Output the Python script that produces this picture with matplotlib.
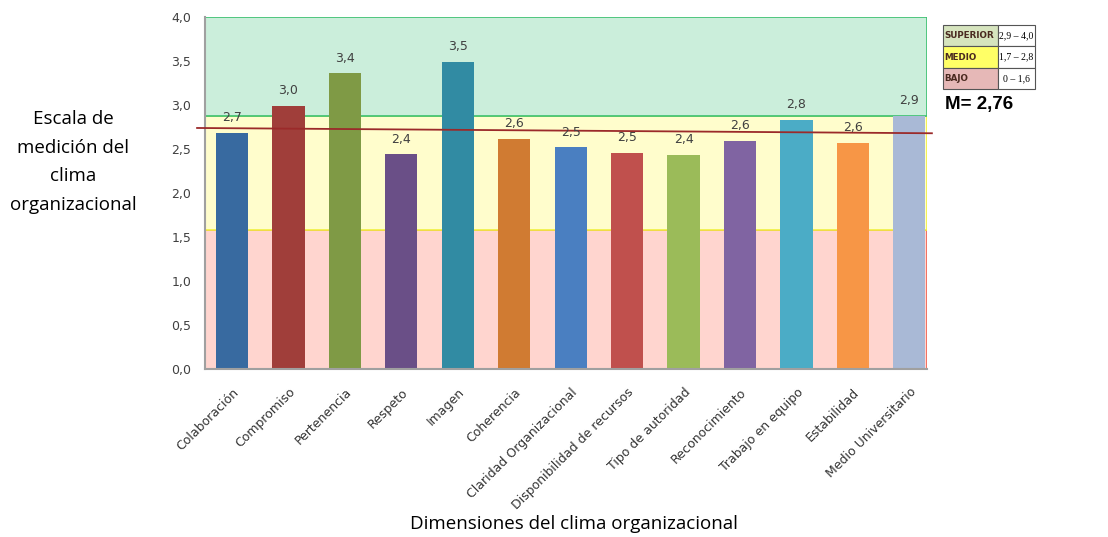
import numpy as np
import matplotlib
matplotlib.use("Agg")
import matplotlib.pyplot as plt

categorias = ["Colaboración", "Compromiso", "Pertenencia", "Respeto", "Imagen",
              "Coherencia", "Claridad Organizacional", "Disponibilidad de recursos",
              "Tipo de autoridad", "Reconocimiento", "Trabajo en equipo",
              "Estabilidad", "Medio Universitario"]
valores = [2.68, 2.99, 3.36, 2.44, 3.49, 2.62, 2.52, 2.46, 2.43, 2.59, 2.83, 2.57, 2.88]
etiquetas = ["2,7", "3,0", "3,4", "2,4", "3,5", "2,6", "2,5", "2,5", "2,4", "2,6", "2,8", "2,6", "2,9"]
colores = ["#386AA0", "#A03E3A", "#7F9A45", "#6A4F87", "#318BA3", "#D07B32", "#4A7FC1",
           "#C0504D", "#9BBB59", "#8064A2", "#4BACC6", "#F79646", "#A9B9D6"]

# bandas de la escala: (inicio, fin, relleno, borde)
bandas = [(0.0, 1.58, "#FFD5CF", "#F06050"),
          (1.58, 2.88, "#FFFDCC", "#F0F040"),
          (2.88, 4.0, "#CBEEDB", "#3CC070")]
tendencia = (2.74, 2.68)
media = "M= 2,76"

tabla_nombres = ["SUPERIOR", "MEDIO", "BAJO"]
tabla_rangos = ["2,9 – 4,0", "1,7 – 2,8", "0 – 1,6"]
tabla_colores = ["#D6E4BE", "#FFFF66", "#E6B8B7"]

fig = plt.figure(figsize=(11.08, 5.37), dpi=100)
ax = fig.add_axes([0.185, 0.313, 0.652, 0.655])

x = np.arange(len(categorias))
xmin, xmax = -0.48, 12.32
for lo, hi, fc, ec in bandas:
    ax.add_patch(plt.Rectangle((xmin, lo), xmax - xmin, hi - lo, facecolor=fc,
                               edgecolor=ec, linewidth=1.2, zorder=0))

ax.bar(x, valores, width=0.57, color=colores, zorder=2)
for xi, v, t in zip(x, valores, etiquetas):
    ax.text(xi, v + 0.1, t, ha="center", va="bottom", fontsize=9, color="#404040",
            family="DejaVu Sans", zorder=4)

ax.plot([-0.62, 12.4], tendencia, color="#9B2A2A", linewidth=1.3, zorder=3, clip_on=False)

ax.set_xlim(xmin, xmax)
ax.set_ylim(0, 4.0)
ax.set_yticks(np.arange(0, 4.01, 0.5))
ax.set_yticklabels([f"{v:.1f}".replace(".", ",") for v in np.arange(0, 4.01, 0.5)],
                   fontsize=9, color="#404040")
ax.set_xticks(x)
ax.set_xticklabels(categorias, rotation=45, ha="right", rotation_mode="anchor",
                   fontsize=9, color="#333333")
ax.tick_params(axis="y", length=0, pad=10)
ax.tick_params(axis="x", length=0, pad=12)
for s in ["top", "right"]:
    ax.spines[s].set_visible(False)
ax.spines["left"].set_color("#A0A0A0")
ax.spines["left"].set_linewidth(1.5)
ax.spines["bottom"].set_color("#A0A0A0")
ax.spines["bottom"].set_linewidth(1.5)

fig.text(73 / 1108, 1 - 162 / 537, "Escala de\nmedición del\nclima\norganizacional",
         ha="center", va="center", fontsize=13.5, family="Open Sans", linespacing=1.75)
fig.text(574 / 1108, 1 - 524 / 537, "Dimensiones del clima organizacional",
         ha="center", va="center", fontsize=13.5, family="Open Sans")

# tabla de rangos
tax = fig.add_axes([943 / 1108, 1 - 89 / 537, 92 / 1108, 64 / 537])
tax.set_axis_off()
tabla = tax.table(cellText=[[n, r] for n, r in zip(tabla_nombres, tabla_rangos)],
                  cellColours=[[c, "white"] for c in tabla_colores],
                  colWidths=[0.6, 0.4], cellLoc="center", bbox=[0, 0, 1, 1])
tabla.auto_set_font_size(False)
for (i, j), cell in tabla.get_celld().items():
    cell.set_edgecolor("#555555")
    cell.set_linewidth(0.8)
    cell.get_text().set_fontsize(7)
    if j == 0:
        cell.get_text().set_family("DejaVu Sans")
        cell.get_text().set_fontsize(6.3)
        cell.get_text().set_fontweight("bold")
        cell.get_text().set_ha("left")
        cell.get_text().set_color("#4A2A20")
        cell._loc = "left"
        cell.PAD = 0.03
    else:
        cell.get_text().set_family("Liberation Serif")

fig.text(945 / 1108, 1 - 105 / 537, media, ha="left", va="center", fontsize=13.5,
         fontweight="bold", family="Liberation Sans")

fig.savefig("out.png", dpi=100)
